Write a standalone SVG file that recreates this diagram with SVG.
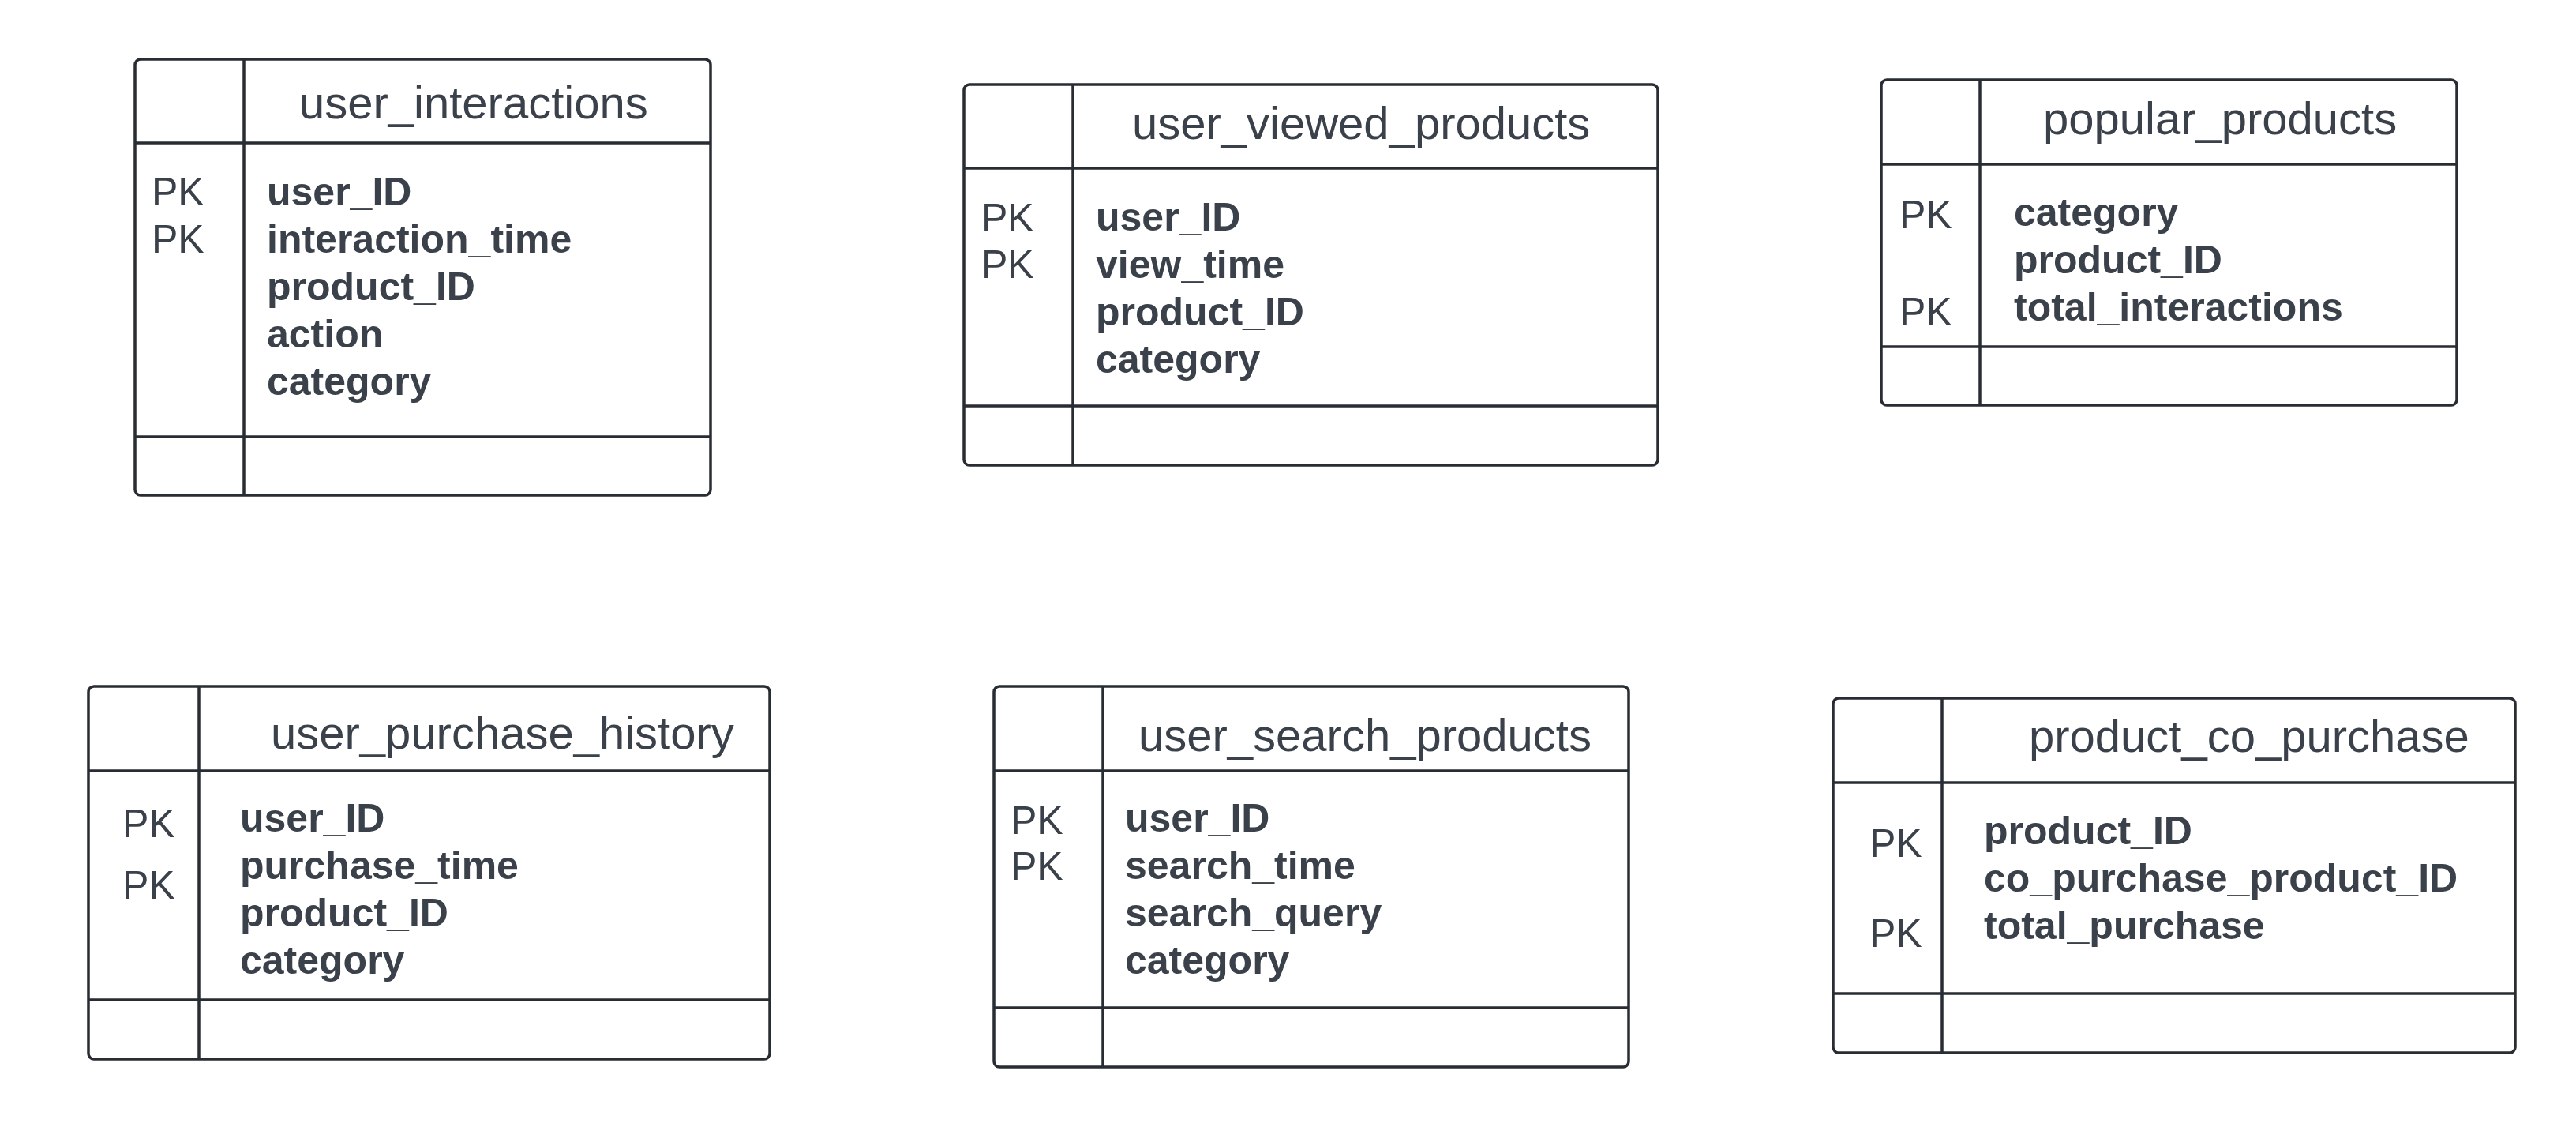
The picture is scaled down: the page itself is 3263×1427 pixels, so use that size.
<svg xmlns="http://www.w3.org/2000/svg" width="3263" height="1427" viewBox="0 0 3263 1427">
<style>
.box{fill:#ffffff;stroke:#282c33;stroke-width:3.5}
.ln{stroke:#282c33;stroke-width:3.5;fill:none}
.title{font-family:"Liberation Sans",Arial,sans-serif;font-size:58px;fill:#3a414a}
.fld{font-family:"Liberation Sans",Arial,sans-serif;font-size:50px;font-weight:bold;fill:#3a414a}
.pk{font-family:"Liberation Sans",Arial,sans-serif;font-size:50px;fill:#3a414a}
</style>
<rect width="3263" height="1427" fill="#ffffff"/>
<g id="user_interactions">
<rect class="box" x="171" y="75" width="729" height="552" rx="7"/>
<line class="ln" x1="171" y1="181" x2="900" y2="181"/>
<line class="ln" x1="171" y1="553" x2="900" y2="553"/>
<line class="ln" x1="309" y1="75" x2="309" y2="627"/>
<text class="title" x="379" y="150">user_interactions</text>
<text class="pk" x="192" y="260">PK</text>
<text class="pk" x="192" y="320">PK</text>
<text class="fld" x="338" y="260">user_ID</text>
<text class="fld" x="338" y="320">interaction_time</text>
<text class="fld" x="338" y="380">product_ID</text>
<text class="fld" x="338" y="440">action</text>
<text class="fld" x="338" y="500">category</text>
</g>
<g id="user_viewed_products">
<rect class="box" x="1221" y="107" width="879" height="482" rx="7"/>
<line class="ln" x1="1221" y1="213" x2="2100" y2="213"/>
<line class="ln" x1="1221" y1="514" x2="2100" y2="514"/>
<line class="ln" x1="1359" y1="107" x2="1359" y2="589"/>
<text class="title" x="1434" y="176">user_viewed_products</text>
<text class="pk" x="1243" y="293">PK</text>
<text class="pk" x="1243" y="352">PK</text>
<text class="fld" x="1388" y="292">user_ID</text>
<text class="fld" x="1388" y="352">view_time</text>
<text class="fld" x="1388" y="412">product_ID</text>
<text class="fld" x="1388" y="472">category</text>
</g>
<g id="popular_products">
<rect class="box" x="2383" y="101" width="729" height="412" rx="7"/>
<line class="ln" x1="2383" y1="208" x2="3112" y2="208"/>
<line class="ln" x1="2383" y1="439" x2="3112" y2="439"/>
<line class="ln" x1="2508" y1="101" x2="2508" y2="513"/>
<text class="title" x="2588" y="170">popular_products</text>
<text class="pk" x="2406" y="289">PK</text>
<text class="pk" x="2406" y="412">PK</text>
<text class="fld" x="2551" y="286">category</text>
<text class="fld" x="2551" y="346">product_ID</text>
<text class="fld" x="2551" y="406">total_interactions</text>
</g>
<g id="user_purchase_history">
<rect class="box" x="112" y="869" width="863" height="472" rx="7"/>
<line class="ln" x1="112" y1="976" x2="975" y2="976"/>
<line class="ln" x1="112" y1="1266" x2="975" y2="1266"/>
<line class="ln" x1="252" y1="869" x2="252" y2="1341"/>
<text class="title" x="343" y="948">user_purchase_history</text>
<text class="pk" x="155" y="1060">PK</text>
<text class="pk" x="155" y="1138">PK</text>
<text class="fld" x="304" y="1053">user_ID</text>
<text class="fld" x="304" y="1113">purchase_time</text>
<text class="fld" x="304" y="1173">product_ID</text>
<text class="fld" x="304" y="1233">category</text>
</g>
<g id="user_search_products">
<rect class="box" x="1259" y="869" width="804" height="482" rx="7"/>
<line class="ln" x1="1259" y1="976" x2="2063" y2="976"/>
<line class="ln" x1="1259" y1="1276" x2="2063" y2="1276"/>
<line class="ln" x1="1397" y1="869" x2="1397" y2="1351"/>
<text class="title" x="1442" y="951">user_search_products</text>
<text class="pk" x="1280" y="1056">PK</text>
<text class="pk" x="1280" y="1114">PK</text>
<text class="fld" x="1425" y="1053">user_ID</text>
<text class="fld" x="1425" y="1113">search_time</text>
<text class="fld" x="1425" y="1173">search_query</text>
<text class="fld" x="1425" y="1233">category</text>
</g>
<g id="product_co_purchase">
<rect class="box" x="2322" y="884" width="864" height="449" rx="7"/>
<line class="ln" x1="2322" y1="991" x2="3186" y2="991"/>
<line class="ln" x1="2322" y1="1258" x2="3186" y2="1258"/>
<line class="ln" x1="2460" y1="884" x2="2460" y2="1333"/>
<text class="title" x="2570" y="952">product_co_purchase</text>
<text class="pk" x="2368" y="1085">PK</text>
<text class="pk" x="2368" y="1199">PK</text>
<text class="fld" x="2513" y="1069">product_ID</text>
<text class="fld" x="2513" y="1129">co_purchase_product_ID</text>
<text class="fld" x="2513" y="1189">total_purchase</text>
</g>
<g id="connectors"></g>
</svg>
